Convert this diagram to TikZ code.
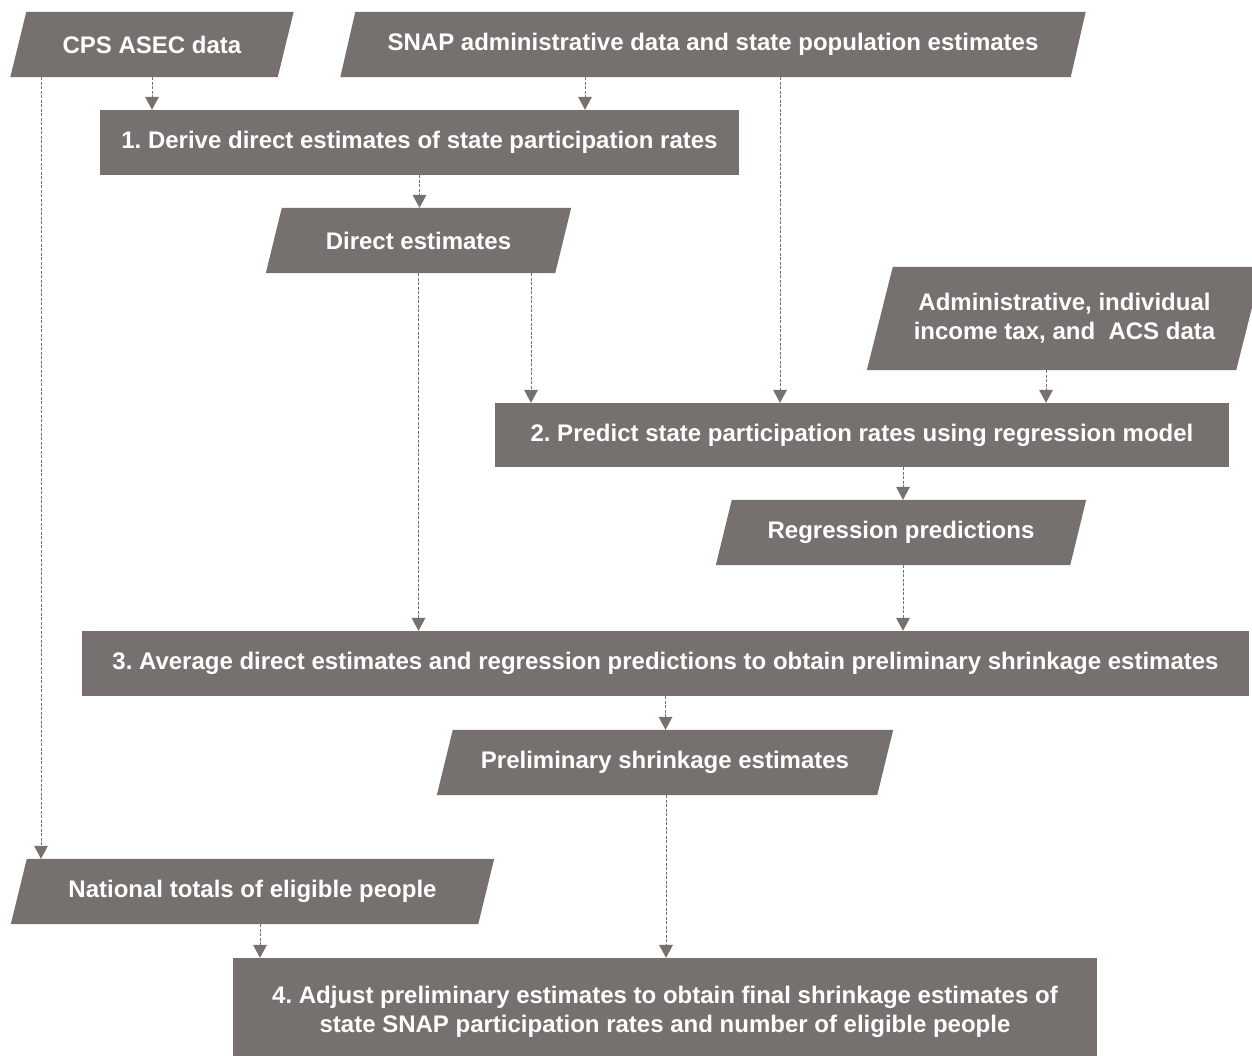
\documentclass[tikz,border=0pt]{standalone}
\usepackage{fontspec}
\setmainfont{Liberation Sans}
\usetikzlibrary{arrows.meta,calc,backgrounds}
\definecolor{boxgray}{RGB}{118,113,111}
\tikzset{
  box/.style={rectangle, fill=boxgray, text=white, inner sep=0pt, minimum height=65pt,
    font=\frenchspacing\bfseries\fontsize{24}{29}\selectfont, align=center},
  para/.style={rectangle, text=white, inner sep=0pt, minimum height=65pt,
    font=\frenchspacing\bfseries\fontsize{24}{29}\selectfont, align=center},
  flow/.style={draw=boxgray, line width=1pt, dash pattern=on 3pt off 1.5pt,
    -{Triangle[width=14pt,length=13pt,fill=boxgray,line width=0pt]}}
}
\newcommand{\parafill}[2]{% name, half slant
  \fill[boxgray] ([xshift=#2]#1.north west) -- ([xshift=#2]#1.north east)
    -- ([xshift=-#2]#1.south east) -- ([xshift=-#2]#1.south west) -- cycle;}
\begin{document}
\begin{tikzpicture}[x=1pt,y=-1pt]
\useasboundingbox (0,0) rectangle (1252,1055);
\clip (0,0) rectangle (1252,1055);
% data (parallelogram) nodes
\node[para, minimum width=267pt] (cps) at (152,44.5) {CPS ASEC data};
\node[para, minimum width=730pt] (snap) at (713,44.5) {SNAP administrative data and state population estimates};
\node[para, minimum width=289pt] (direct) at (418.5,240.5) {Direct estimates};
\node[para, minimum width=369pt, minimum height=103pt] (admin) at (1064.5,318.5) {Administrative, individual\\income tax, and\ \ ACS data};
\node[para, minimum width=354pt] (regr) at (901,532.5) {Regression predictions};
\node[para, minimum width=440pt] (prelim) at (665,762.5) {Preliminary shrinkage estimates};
\node[para, minimum width=467pt] (national) at (252.5,891.5) {National totals of eligible people};
% process boxes
\node[box, minimum width=639pt] (box1) at (419.5,142.5) {1. Derive direct estimates of state participation rates};
\node[box, minimum width=734pt, minimum height=64pt] (box2) at (862,435) {2. Predict state participation rates using regression model};
\node[box, minimum width=1167pt] (box3) at (665.5,663.5) {3. Average direct estimates and regression predictions to obtain preliminary shrinkage estimates};
\node[box, minimum width=864pt, minimum height=108pt] (box4) at (665,1012) {4. Adjust preliminary estimates to obtain final shrinkage estimates of\\state SNAP participation rates and number of eligible people};
\begin{scope}[on background layer]
\parafill{cps}{8pt}
\parafill{snap}{7.5pt}
\parafill{direct}{8pt}
\parafill{admin}{13pt}
\parafill{regr}{8pt}
\parafill{prelim}{8pt}
\parafill{national}{8pt}
\end{scope}
% connectors
\draw[flow] (cps.south) -- (cps.south |- box1.north);
\draw[flow] ([xshift=-111pt]cps.south) -- ([xshift=-111pt]cps.south |- national.north);
\draw[flow] ([xshift=-128pt]snap.south) -- ([xshift=-128pt]snap.south |- box1.north);
\draw[flow] ([xshift=67pt]snap.south) -- ([xshift=67pt]snap.south |- box2.north);
\draw[flow] (box1.south) -- (box1.south |- direct.north);
\draw[flow] (direct.south) -- (direct.south |- box3.north);
\draw[flow] ([xshift=112.5pt]direct.south) -- ([xshift=112.5pt]direct.south |- box2.north);
\draw[flow] ([xshift=-18.5pt]admin.south) -- ([xshift=-18.5pt]admin.south |- box2.north);
\draw[flow] ([xshift=41pt]box2.south) -- ([xshift=41pt]box2.south |- regr.north);
\draw[flow] ([xshift=2pt]regr.south) -- ([xshift=2pt]regr.south |- box3.north);
\draw[flow] (box3.south) -- (box3.south |- prelim.north);
\draw[flow] ([xshift=1pt]prelim.south) -- ([xshift=1pt]prelim.south |- box4.north);
\draw[flow] ([xshift=7.5pt]national.south) -- ([xshift=7.5pt]national.south |- box4.north);
\end{tikzpicture}
\end{document}
